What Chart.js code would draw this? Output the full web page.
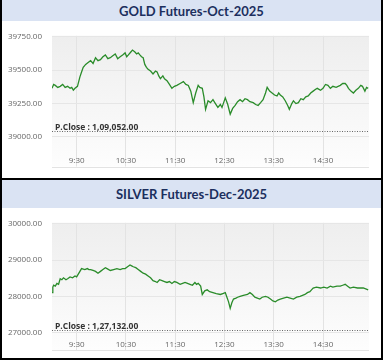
<!DOCTYPE html>
<html>
<head>
<meta charset="utf-8">
<script src="https://cdn.jsdelivr.net/npm/chart.js@4"></script>
<style>
  body { margin: 0; background: #fff; width: 383px; height: 362px; position: relative; overflow: hidden; }
  .panel { position: absolute; left: 0; width: 383px; height: 180px; box-sizing: border-box; border: 2px solid #000; border-top: none; }
  .head { position: absolute; left: 0; right: 0; top: 0; background: #dae3f3; color: #1c2f5e; font: 700 13px Lato, sans-serif; text-align: center; }
  canvas { position: absolute; left: 0; }
</style>
</head>
<body>
<div class="panel" style="top:0">
  <div class="head" style="height:21px;line-height:23px">GOLD Futures-Oct-2025</div>
  <canvas id="gold" width="379" height="157" style="top:21px"></canvas>
</div>
<div class="panel" style="top:180px">
  <div class="head" style="height:28px;line-height:28px">SILVER Futures-Dec-2025</div>
  <canvas id="silver" width="379" height="150" style="top:28px"></canvas>
</div>
<script>
// x axis labels (shared)
const timeTicks = ["9:30", "10:30", "11:30", "12:30", "13:30", "14:30"];

// gold
const goldTimes = [
  "9:00", "9:02", "9:04", "9:07", "9:10", "9:13", "9:16", "9:19", "9:22", "9:24",
  "9:26", "9:28", "9:31", "9:34", "9:36", "9:38", "9:41", "9:44", "9:47", "9:50",
  "9:53", "9:56", "9:59", "10:02", "10:05", "10:08", "10:11", "10:14", "10:17", "10:20",
  "10:23", "10:26", "10:29", "10:31", "10:33", "10:36", "10:38", "10:41", "10:43", "10:45",
  "10:47", "10:49", "10:51", "10:53", "10:55", "10:57", "11:00", "11:03", "11:06", "11:08",
  "11:10", "11:12", "11:15", "11:17", "11:20", "11:23", "11:26", "11:29", "11:32", "11:36",
  "11:40", "11:43", "11:46", "11:49", "11:52", "11:55", "11:58", "12:00", "12:03", "12:05",
  "12:07", "12:10", "12:13", "12:16", "12:19", "12:22", "12:25", "12:27", "12:29", "12:31",
  "12:34", "12:37", "12:40", "12:43", "12:46", "12:49", "12:52", "12:55", "12:58", "13:01",
  "13:05", "13:08", "13:11", "13:14", "13:17", "13:20", "13:22", "13:25", "13:28", "13:31",
  "13:34", "13:36", "13:38", "13:41", "13:44", "13:47", "13:49", "13:52", "13:54", "13:57",
  "14:00", "14:03", "14:06", "14:09", "14:12", "14:15", "14:18", "14:21", "14:23", "14:27",
  "14:30", "14:33", "14:36", "14:39", "14:42", "14:46", "14:51", "14:54", "14:57", "14:59",
  "15:01", "15:04", "15:07", "15:10", "15:13", "15:16", "15:18", "15:21", "15:23", "15:25"];
const goldValues = [
  39364, 39393, 39386, 39371, 39379, 39393, 39371, 39379, 39364, 39371,
  39350, 39364, 39379, 39450, 39486, 39521, 39543, 39557, 39571, 39550,
  39593, 39571, 39579, 39600, 39614, 39586, 39593, 39607, 39621, 39586,
  39600, 39614, 39629, 39600, 39614, 39636, 39650, 39636, 39621, 39629,
  39614, 39600, 39593, 39543, 39521, 39507, 39493, 39471, 39493, 39486,
  39457, 39436, 39457, 39436, 39421, 39393, 39364, 39379, 39386, 39400,
  39414, 39393, 39386, 39343, 39257, 39329, 39386, 39371, 39364, 39300,
  39207, 39271, 39257, 39279, 39250, 39221, 39243, 39221, 39257, 39293,
  39243, 39171, 39214, 39236, 39264, 39279, 39264, 39286, 39279, 39264,
  39257, 39243, 39236, 39257, 39279, 39329, 39371, 39343, 39329, 39314,
  39307, 39329, 39314, 39300, 39271, 39236, 39207, 39250, 39271, 39250,
  39257, 39286, 39279, 39300, 39307, 39329, 39343, 39357, 39364, 39350,
  39364, 39393, 39386, 39364, 39379, 39371, 39386, 39400, 39400, 39386,
  39364, 39343, 39329, 39350, 39364, 39386, 39379, 39343, 39371, 39364];
const goldTicks = [39000, 39250, 39500, 39750];
const goldClose = { level: 39043, text: "P.Close : 1,09,052.00" };

// silver
const silverTimes = [
  "9:00", "9:01", "9:02", "9:04", "9:06", "9:08", "9:10", "9:12", "9:14", "9:17",
  "9:19", "9:22", "9:25", "9:28", "9:30", "9:32", "9:34", "9:36", "9:40", "9:43",
  "9:45", "9:47", "9:50", "9:53", "9:56", "9:59", "10:02", "10:05", "10:07", "10:11",
  "10:15", "10:19", "10:23", "10:26", "10:29", "10:32", "10:35", "10:37", "10:39", "10:42",
  "10:45", "10:48", "10:51", "10:54", "10:57", "11:00", "11:03", "11:06", "11:08", "11:11",
  "11:14", "11:17", "11:20", "11:23", "11:26", "11:29", "11:32", "11:36", "11:39", "11:42",
  "11:45", "11:48", "11:51", "11:54", "11:56", "11:58", "12:01", "12:03", "12:06", "12:09",
  "12:12", "12:16", "12:20", "12:25", "12:28", "12:31", "12:33", "12:35", "12:37", "12:39",
  "12:41", "12:44", "12:46", "12:49", "12:53", "12:58", "13:01", "13:04", "13:07", "13:10",
  "13:13", "13:16", "13:20", "13:23", "13:26", "13:29", "13:32", "13:35", "13:38", "13:42",
  "13:46", "13:50", "13:54", "13:58", "14:02", "14:05", "14:08", "14:11", "14:14", "14:16",
  "14:18", "14:22", "14:27", "14:31", "14:35", "14:39", "14:42", "14:47", "14:51", "14:54",
  "14:57", "15:00", "15:03", "15:07", "15:12", "15:16", "15:19", "15:22", "15:25"];
const silverValues = [
  28102, 28254, 28305, 28280, 28356, 28331, 28484, 28458, 28509, 28458,
  28484, 28535, 28509, 28560, 28535, 28611, 28687, 28764, 28738, 28764,
  28738, 28738, 28712, 28687, 28636, 28687, 28738, 28789, 28764, 28712,
  28738, 28764, 28738, 28764, 28764, 28814, 28865, 28840, 28814, 28789,
  28738, 28687, 28636, 28611, 28560, 28509, 28433, 28407, 28382, 28458,
  28433, 28407, 28382, 28407, 28356, 28407, 28382, 28331, 28356, 28382,
  28356, 28331, 28305, 28382, 28331, 28356, 28280, 28051, 28152, 28178,
  28127, 28102, 28076, 28051, 28076, 28102, 27975, 27847, 27669, 27822,
  27924, 27949, 27975, 28000, 28025, 28051, 28102, 28051, 27975, 27949,
  27924, 27975, 28000, 27975, 27924, 27873, 27847, 27898, 27924, 27949,
  27975, 27949, 27924, 27975, 28000, 28025, 28051, 28102, 28127, 28178,
  28229, 28254, 28229, 28254, 28229, 28280, 28254, 28280, 28280, 28305,
  28331, 28280, 28229, 28254, 28229, 28229, 28229, 28203, 28178];
const silverTicks = [27000, 28000, 29000, 30000];
const silverClose = { level: 27066, text: "P.Close : 1,27,132.00" };

// minutes after 9:00
const toMin = (s) => {
  const [h, m] = s.split(":").map(Number);
  return (h - 9) * 60 + m;
};
const toLabel = (v) => timeTicks.find((t) => toMin(t) === v) || "";

const TICK_LEN = 10;

// grey plot background, runs down through the time labels
const plotBg = {
  id: "plotBg",
  beforeDraw(chart) {
    const { ctx, chartArea: a } = chart;
    const bottom = a.bottom + TICK_LEN;
    const g = ctx.createLinearGradient(0, a.top, 0, bottom);
    g.addColorStop(0, "#eeeeee");
    g.addColorStop(1, "#fdfdfd");
    ctx.save();
    ctx.fillStyle = g;
    ctx.fillRect(a.left, a.top, a.right - a.left, bottom - a.top);
    ctx.strokeStyle = "#e3e3e3";
    ctx.beginPath();
    ctx.moveTo(a.left, Math.round(bottom) + 0.5);
    ctx.lineTo(a.right, Math.round(bottom) + 0.5);
    ctx.stroke();
    ctx.restore();
  },
};

const closeLine = {
  id: "closeLine",
  afterDatasetsDraw(chart, args, opts) {
    const { ctx, chartArea: a } = chart;
    const y = Math.round(chart.scales.y.getPixelForValue(opts.level)) + 0.5;
    ctx.save();
    ctx.strokeStyle = "#666";
    ctx.lineWidth = 1;
    ctx.setLineDash([1, 1.5]);
    ctx.beginPath();
    ctx.moveTo(a.left, y);
    ctx.lineTo(a.right, y);
    ctx.stroke();
    ctx.fillStyle = "#333";
    ctx.font = "700 8.5px 'Open Sans'";
    ctx.textBaseline = "bottom";
    ctx.fillText(opts.text, a.left + 3, y);
    ctx.restore();
  },
};

const makeChart = (id, times, values, yTicks, yMin, yMax, close, pad) => {
  const tickFont = { family: "'Open Sans'", size: 8 };
  return new Chart(document.getElementById(id), {
    type: "line",
    data: {
      datasets: [
        {
          data: times.map((t, i) => ({ x: toMin(t), y: values[i] })),
          borderColor: "#2a8c2a",
          borderWidth: 1.3,
          pointRadius: 0,
          tension: 0,
        },
      ],
    },
    options: {
      responsive: false,
      animation: false,
      devicePixelRatio: 1,
      layout: { padding: pad },
      plugins: { legend: { display: false }, tooltip: { enabled: false }, closeLine: close },
      scales: {
        x: {
          type: "linear",
          min: 0,
          max: 386,
          afterBuildTicks: (axis) => {
            axis.ticks = timeTicks.map((t) => ({ value: toMin(t) }));
          },
          afterFit: (axis) => {
            axis.height = 11;
          },
          ticks: { callback: toLabel, font: tickFont, color: "#666", padding: -10.3, maxRotation: 0, autoSkip: false },
          grid: { color: "#e3e3e3", tickLength: TICK_LEN },
          border: { display: false },
        },
        y: {
          min: yMin,
          max: yMax,
          afterBuildTicks: (axis) => {
            axis.ticks = yTicks.map((v) => ({ value: v }));
          },
          afterFit: (axis) => {
            axis.width = 50;
          },
          ticks: { callback: (v) => v.toFixed(2), font: tickFont, color: "#666", padding: 10 },
          grid: { color: "#e6e6e6", drawTicks: false },
          border: { display: false },
        },
      },
    },
    plugins: [plotBg, closeLine],
  });
};

makeChart("gold", goldTimes, goldValues, goldTicks, 38854, 39757, goldClose,
  { top: 9, right: 12, bottom: 10.5, left: 0 });
makeChart("silver", silverTimes, silverValues, silverTicks, 26797, 30025, silverClose,
  { top: 5, right: 12, bottom: 7, left: 0 });
</script>
</body>
</html>
